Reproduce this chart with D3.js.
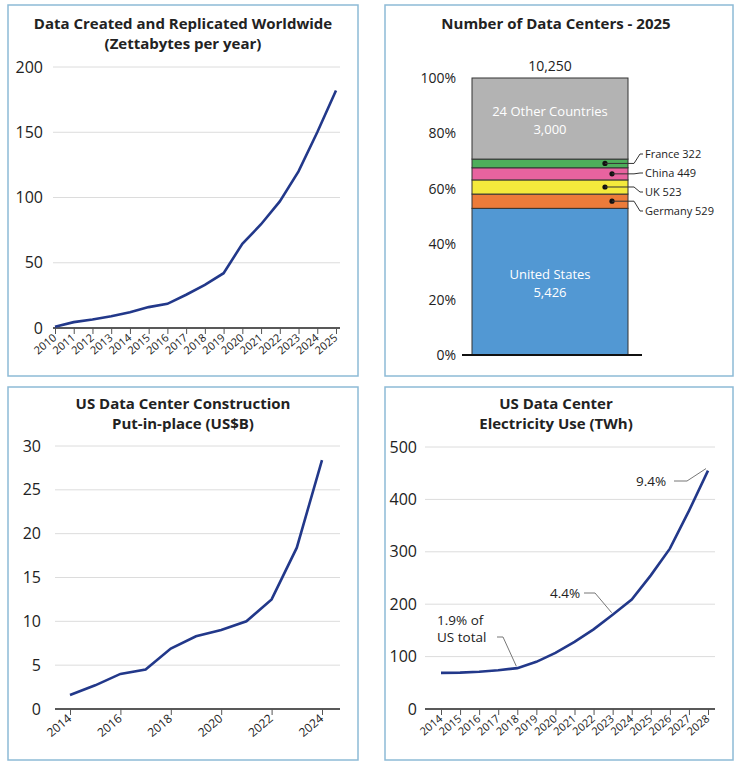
<!DOCTYPE html>
<html><head><meta charset="utf-8">
<script src="https://cdn.jsdelivr.net/npm/d3@7"></script>
<style>
body{margin:0;background:#fff;font-family:"Open Sans",sans-serif;}
text{fill:#222;}
</style></head>
<body><svg id="chart" width="739" height="765"></svg>
<script>
// data
const zbYears = d3.range(2010, 2026);
const zbValues = [1, 4.5, 6.5, 9, 12, 16, 18.5, 25.5, 33, 42, 64.5, 79.5, 97, 120, 150, 182];

const dcCountries = ["United States", "Germany", "UK", "China", "France", "24 Other Countries"];
const dcCounts = [5426, 529, 523, 449, 322, 3000];
const dcColors = ["#5298d3", "#ec7b3a", "#f4ea3c", "#e8639f", "#4dae5b", "#b3b3b3"];
const dcTotal = "10,250";

const conYears = d3.range(2014, 2025);
const conValues = [1.6, 2.7, 4.0, 4.5, 6.9, 8.3, 9.0, 10.0, 12.5, 18.4, 28.4];

const elecYears = d3.range(2014, 2029);
const elecValues = [69, 69.5, 71, 74, 78, 90, 107, 128, 152, 180, 209, 255, 306, 378, 455];

const lineColor = "#22388a";
const svg = d3.select("#chart");

function panel(x, y, w, h) {
    svg.append("rect").attr("x", x).attr("y", y).attr("width", w).attr("height", h)
       .attr("fill", "none").attr("stroke", "#8dbbd6").attr("stroke-width", 1.5);
}
function title(cx, y, lines) {
    lines.forEach((l, i) => svg.append("text").attr("x", cx).attr("y", y + i * 20)
        .attr("text-anchor", "middle").attr("font-size", 15).attr("font-weight", "bold").text(l));
}

function linePanel(o) {
    const xs = d3.scaleLinear().domain(d3.extent(o.years)).range([o.x0, o.x1]);
    const ys = d3.scaleLinear().domain([0, o.ymax]).range([o.y0, o.y1]);
    const g = svg.append("g");
    // grid
    g.selectAll(".grid").data(o.yticks.slice(1)).join("line")
        .attr("x1", o.gx0).attr("x2", o.gx1).attr("y1", d => ys(d)).attr("y2", d => ys(d))
        .attr("stroke", "#dcdcdc");
    const ya = g.append("g").attr("transform", `translate(${o.gx0},0)`)
        .call(d3.axisLeft(ys).tickValues(o.yticks).tickSize(0).tickPadding(o.ypad));
    ya.select(".domain").remove();
    ya.selectAll("text").attr("font-size", 16).attr("font-family", "Open Sans").attr("fill", "#222");
    const xa = g.append("g").attr("transform", `translate(0,${o.y0})`)
        .call(d3.axisBottom(xs).tickValues(o.xticks).tickFormat(d3.format("d")).tickSize(6).tickSizeOuter(0));
    xa.select(".domain").attr("d", `M${o.gx0},0H${o.gx1}`).attr("stroke", "#222").attr("stroke-width", 1.5);
    xa.selectAll(".tick line").attr("stroke", "#555");
    xa.selectAll("text").attr("font-size", o.xfont).attr("font-family", "Open Sans").attr("fill", "#222")
        .attr("text-anchor", "end").attr("dy", 0)
        .attr("transform", "translate(-4,4) rotate(-40)");
    g.append("path").datum(o.values.map((v, i) => [o.years[i], v]))
        .attr("fill", "none").attr("stroke", lineColor).attr("stroke-width", 2.6)
        .attr("d", d3.line().x(d => xs(d[0])).y(d => ys(d[1])));
    return {xs, ys};
}

// top-left
panel(8, 5, 350, 371);
title(183, 29, ["Data Created and Replicated Worldwide", "(Zettabytes per year)"]);
linePanel({years: zbYears, values: zbValues, x0: 55, x1: 336, y0: 328, y1: 67, ymax: 200,
    gx0: 53, gx1: 340, yticks: [0, 50, 100, 150, 200], xticks: zbYears, ypad: 10, xfont: 11});

// top-right stacked bar
panel(385, 5, 348, 371);
title(556, 29, ["Number of Data Centers - 2025"]);
const total = d3.sum(dcCounts);
const py = d3.scaleLinear().domain([0, 1]).range([355, 78]);
const bx0 = 472, bx1 = 628;
const ga = svg.append("g").attr("transform", "translate(462,0)")
    .call(d3.axisLeft(py).tickValues(d3.range(0, 1.01, 0.2)).tickFormat(d3.format(".0%")).tickSize(0).tickPadding(6));
ga.select(".domain").remove();
ga.selectAll("text").attr("font-size", 14).attr("font-family", "Open Sans").attr("fill", "#222");
let cum = 0;
const stack = dcCounts.map((c, i) => { const s = {name: dcCountries[i], count: c, y0: cum / total, y1: (cum + c) / total, color: dcColors[i]}; cum += c; return s; });
svg.selectAll(".seg").data(stack).join("rect")
    .attr("x", bx0).attr("width", bx1 - bx0)
    .attr("y", d => py(d.y1)).attr("height", d => py(d.y0) - py(d.y1))
    .attr("fill", d => d.color).attr("stroke", "#333").attr("stroke-width", 1);
svg.append("line").attr("x1", 462).attr("x2", 642).attr("y1", py(0)).attr("y2", py(0))
    .attr("stroke", "#111").attr("stroke-width", 2);
svg.append("text").attr("x", (bx0 + bx1) / 2).attr("y", 71).attr("text-anchor", "middle")
    .attr("font-size", 14).text(dcTotal);
[stack[0], stack[5]].forEach(d => {
    const cy = py((d.y0 + d.y1) / 2);
    const t = svg.append("text").attr("x", (bx0 + bx1) / 2).attr("text-anchor", "middle")
        .attr("font-size", 13).style("fill", "#fff");
    t.append("tspan").attr("x", (bx0 + bx1) / 2).attr("y", cy - 3).text(d.name);
    t.append("tspan").attr("x", (bx0 + bx1) / 2).attr("y", cy + 15).text(d3.format(",")(d.count));
});
// callouts
const callouts = [
    {i: 4, dotx: 605, ty: 154},
    {i: 3, dotx: 612, ty: 173},
    {i: 2, dotx: 605, ty: 192},
    {i: 1, dotx: 612, ty: 211}
];
callouts.forEach(c => {
    const d = stack[c.i];
    const cy = py((d.y0 + d.y1) / 2);
    svg.append("circle").attr("cx", c.dotx).attr("cy", cy).attr("r", 2.6).attr("fill", "#111");
    svg.append("path").attr("d", `M${c.dotx},${cy}H634L640,${c.ty}H643`)
        .attr("fill", "none").attr("stroke", "#333").attr("stroke-width", 1);
    svg.append("text").attr("x", 645).attr("y", c.ty + 4).attr("font-size", 11).text(d.name + " " + d.count);
});

// bottom-left
panel(8, 387, 350, 373);
title(183, 409, ["US Data Center Construction", "Put-in-place (US$B)"]);
linePanel({years: conYears, values: conValues, x0: 70, x1: 322, y0: 709, y1: 446, ymax: 30,
    gx0: 55, gx1: 340, yticks: [0, 5, 10, 15, 20, 25, 30], xticks: [2014, 2016, 2018, 2020, 2022, 2024], ypad: 14, xfont: 12});

// bottom-right
panel(385, 387, 348, 373);
title(556, 409, ["US Data Center", "Electricity Use (TWh)"]);
const el = linePanel({years: elecYears, values: elecValues, x0: 441, x1: 708, y0: 709, y1: 447, ymax: 500,
    gx0: 425, gx1: 715, yticks: [0, 100, 200, 300, 400, 500], xticks: elecYears, ypad: 8, xfont: 11});
const notes = [
    {yr: 2018, lines: ["1.9% of", "US total"], tx: 437, ty: 625, path: [[497, 637], [503, 637]]},
    {yr: 2023, lines: ["4.4%"], tx: 550, ty: 598, path: [[584, 593], [595, 593]]},
    {yr: 2028, lines: ["9.4%"], tx: 636, ty: 486, path: [[674, 481], [687, 481]]}
];
notes.forEach(n => {
    const px = el.xs(n.yr), pyv = el.ys(elecValues[elecYears.indexOf(n.yr)]);
    const p0 = n.path[0], p1 = n.path[1];
    svg.append("path").attr("d", `M${p0[0]},${p0[1]}H${p1[0]}L${n.yr === 2028 ? px - 2 : px - 1},${pyv - 2}`)
        .attr("fill", "none").attr("stroke", "#777").attr("stroke-width", 1);
    n.lines.forEach((l, i) => svg.append("text").attr("x", n.tx).attr("y", n.ty + i * 17)
        .attr("font-size", 13.5).text(l));
});
</script></body></html>
